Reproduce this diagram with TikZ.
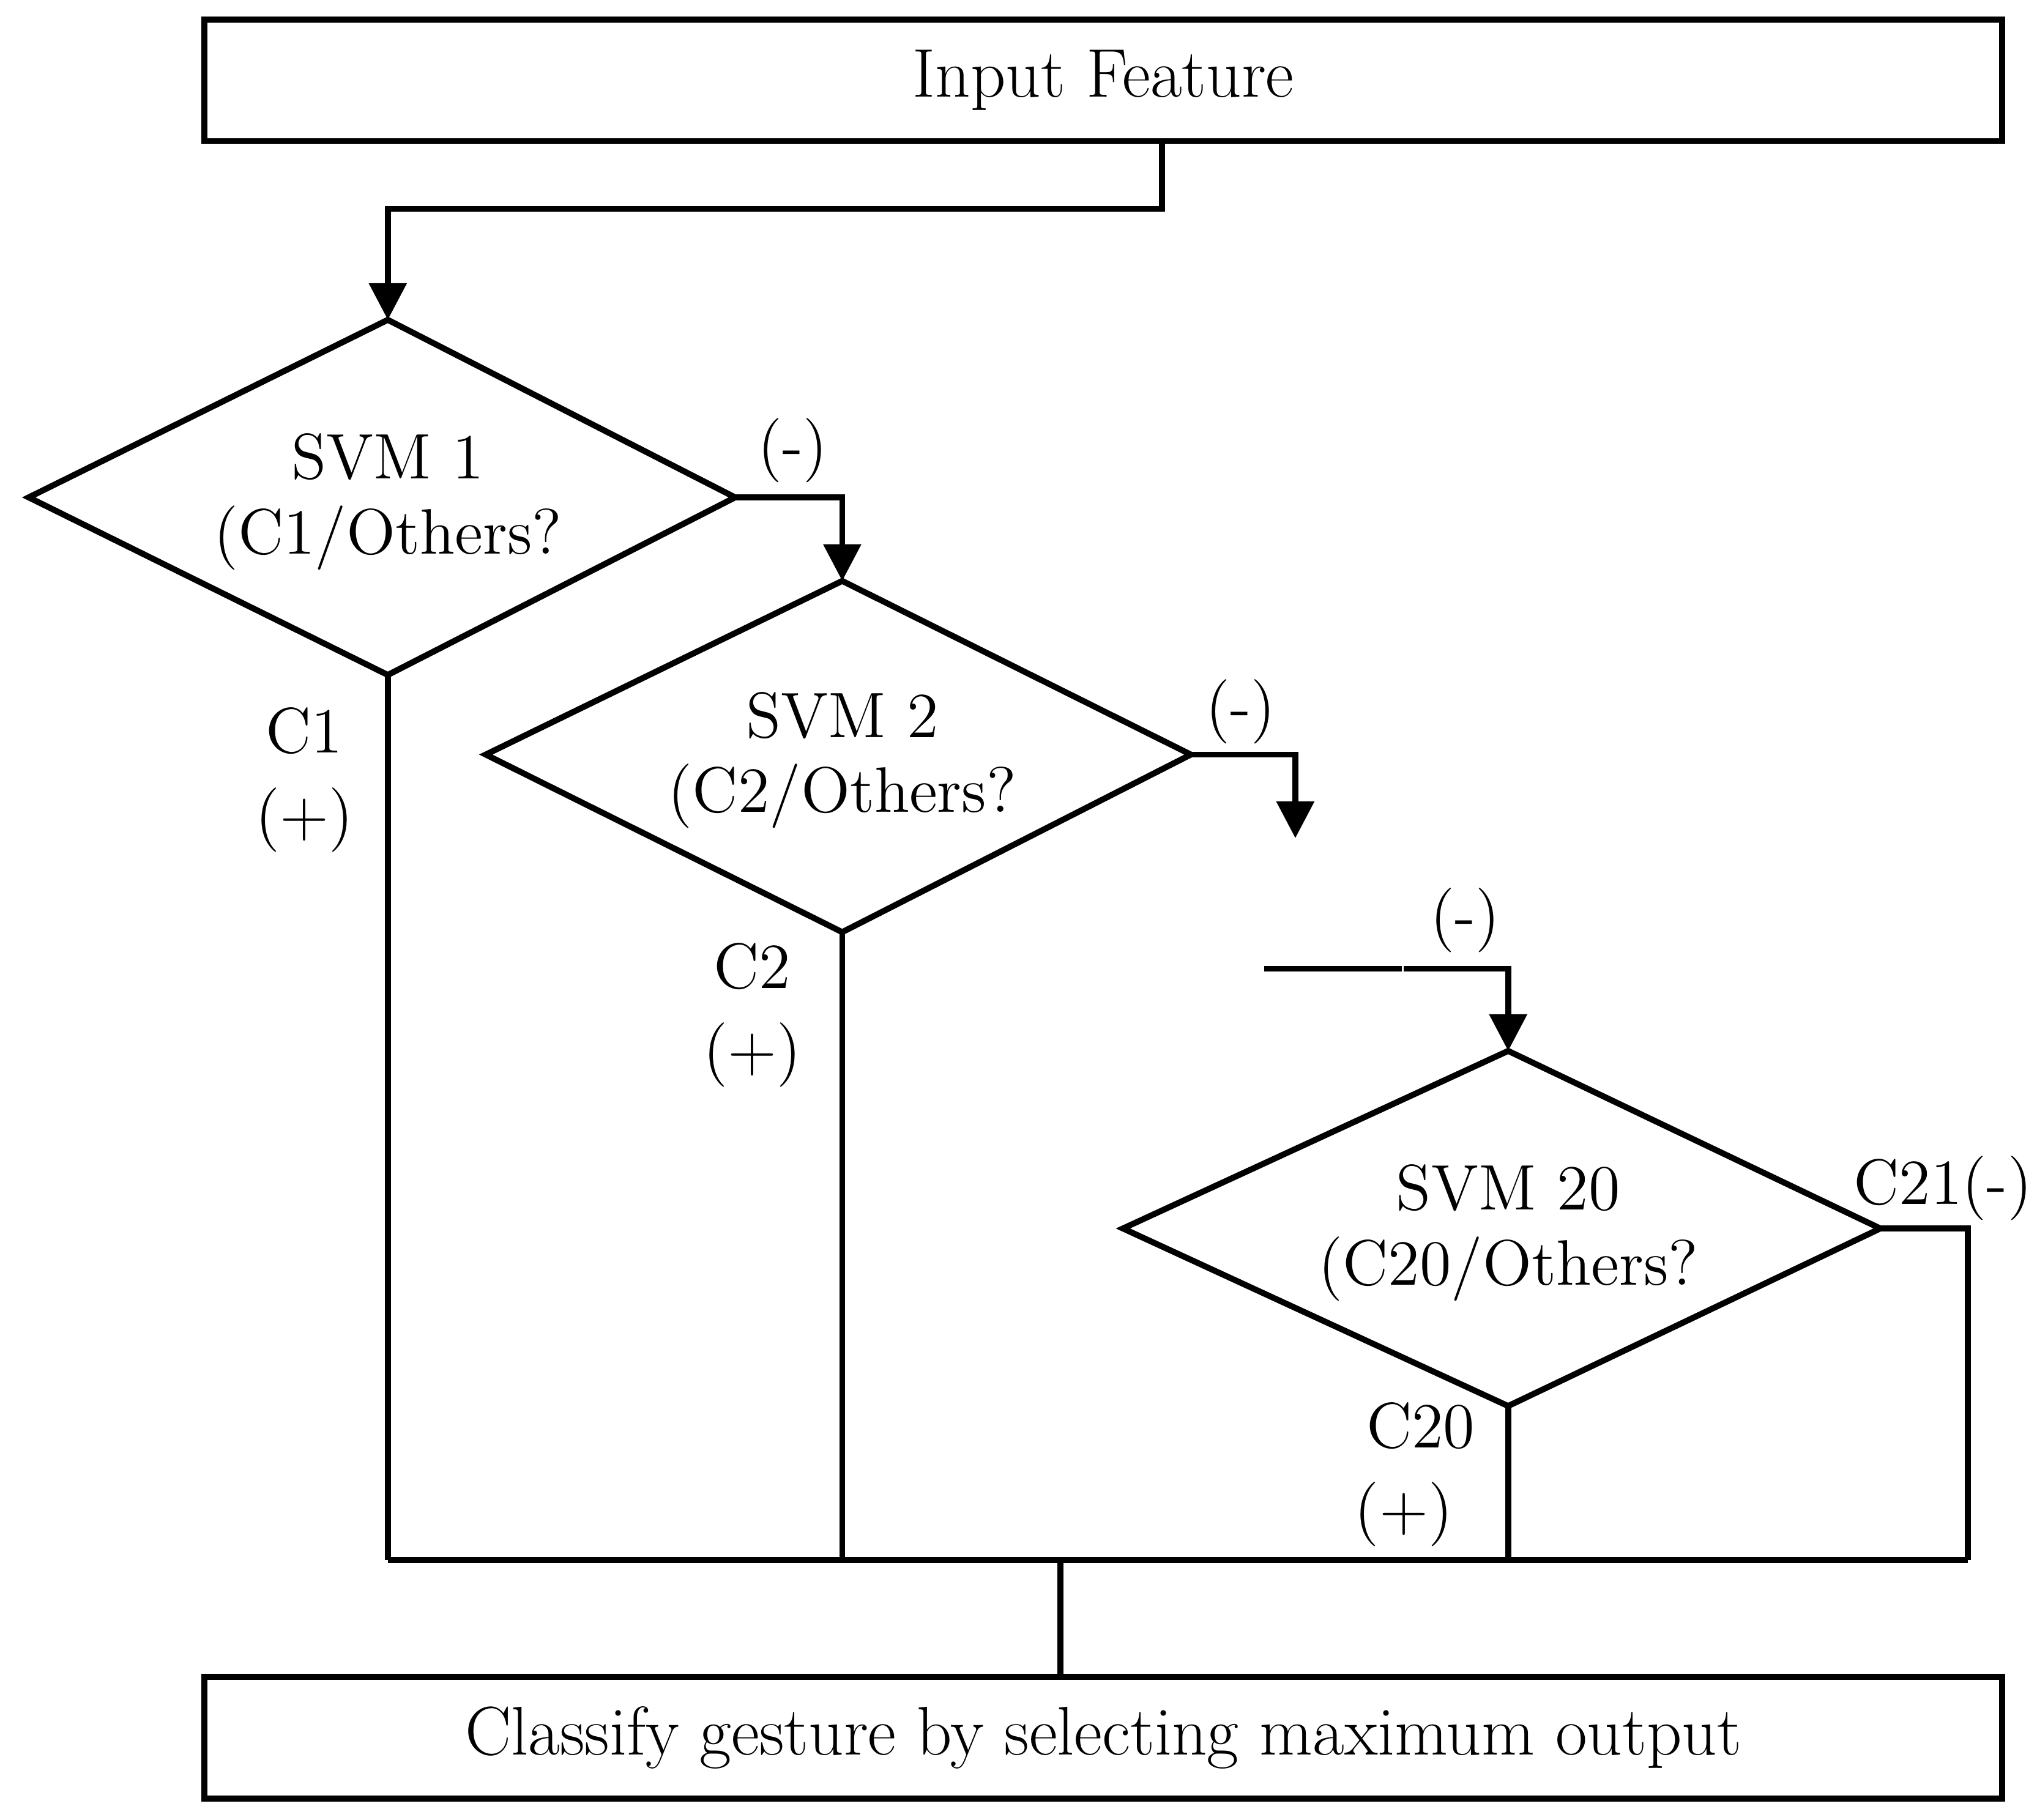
\documentclass[tikz,border=0pt]{standalone}
\usetikzlibrary{arrows.meta}
\begin{document}
\begin{tikzpicture}[x=0.01cm,y=-0.01cm,
  ln/.style={line width=1.3pt},
  arr/.style={ln,-{Triangle[length=8pt,width=8pt]}},
  box/.style={draw,line width=1.3pt,minimum width=13.76cm,minimum height=0.93cm,font=\fontsize{15}{18}\selectfont},
  lab/.style={font=\fontsize{14}{17}\selectfont},
  dia/.style={ln}]
\useasboundingbox (0,0) rectangle (1560,1394);
\node[box] (in) at (845,61.5) {Input Feature};
\node[box] (out) at (845,1331) {Classify gesture by selecting maximum output};
% diamonds
\coordinate (t1) at (297,245); \coordinate (r1) at (563,381); \coordinate (b1) at (297,517); \coordinate (l1) at (22,381);
\coordinate (t2) at (645,445); \coordinate (r2) at (912,578); \coordinate (b2) at (645,714); \coordinate (l2) at (372,578);
\coordinate (t3) at (1155,805); \coordinate (r3) at (1440,941); \coordinate (b3) at (1155,1077); \coordinate (l3) at (860,941);
\draw[dia] (t1)--(r1)--(b1)--(l1)--cycle;
\draw[dia] (t2)--(r2)--(b2)--(l2)--cycle;
\draw[dia] (t3)--(r3)--(b3)--(l3)--cycle;
\node[lab] (s1a) at (297,350) {SVM 1};
\node[lab] (s1b) at (297,412) {(C1/Others?};
\node[lab] (s2a) at (645,548) {SVM 2};
\node[lab] (s2b) at (645,610) {(C2/Others?};
\node[lab] (s3a) at (1155,910) {SVM 20};
\node[lab] (s3b) at (1155,972) {(C20/Others?};
% arrows
\draw[arr] (in.south -| 890,0) |- (297,160) -- (t1);
\node[lab] (m1) at (607,345) {(-)};
\draw[arr] (r1) -| (t2);
\node[lab] (m2) at (950,545) {(-)};
\coordinate (e2) at (992,642);
\draw[arr] (r2) -| (e2);
\coordinate (d0) at (968,742); \coordinate (d1) at (1075,742);
\draw[ln,dash pattern=on 30pt off 25pt] (d0) -- (d1);
\node[lab] (m3) at (1122,705) {(-)};
\draw[arr] (d1) -| (t3);
\node[lab] (c21) at (1488,910) {C21(-)};
% outputs
\coordinate (bus1) at (297,1195); \coordinate (bus2) at (1507,1195);
\draw[ln] (b1) -- (bus1);
\draw[ln] (b2) -- (645,1195);
\draw[ln] (b3) -- (1155,1195);
\draw[ln] (r3) -| (bus2);
\draw[ln] (bus1) -- (bus2);
\draw[ln] (812,1195) -- (out.north -| 812,0);
\node[lab] (c1) at (233,560) {C1};
\node[lab] (p1) at (233,628) {(+)};
\node[lab] (c2) at (576,740) {C2};
\node[lab] (p2) at (576,808) {(+)};
\node[lab] (c20) at (1088,1092) {C20};
\node[lab] (p20) at (1075,1160) {(+)};
\end{tikzpicture}
\end{document}
